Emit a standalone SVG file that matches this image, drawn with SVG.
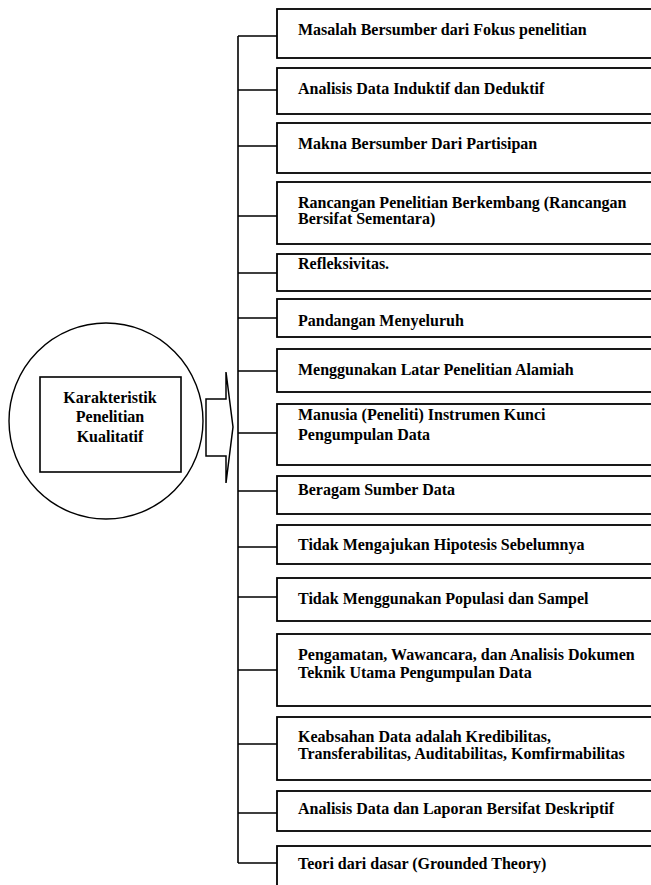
<svg xmlns="http://www.w3.org/2000/svg" width="651" height="885" viewBox="0 0 651 885">
<style>
.box{fill:#fff;stroke:#000;stroke-width:1.8}
.conn{fill:none;stroke:#000;stroke-width:1.6}
</style>
<rect width="651" height="885" fill="#fff"/>
<g font-family="Liberation Serif, Times New Roman, serif" font-weight="bold" font-size="16" fill="#000">
<g id="center">
<ellipse cx="106" cy="421" rx="97" ry="98" fill="#fff" stroke="#000" stroke-width="1.4"/>
<rect x="40" y="377" width="141" height="95" fill="#fff" stroke="#000" stroke-width="1.6"/>
<text x="110" y="403" text-anchor="middle">Karakteristik</text>
<text x="110" y="422" text-anchor="middle">Penelitian</text>
<text x="110" y="442" text-anchor="middle">Kualitatif</text>
</g>
<g id="arrow">
<path d="M206,399 L226,399 L226,372 L233,427 L226,483 L226,456 L206,456 Z" fill="#fff" stroke="#000" stroke-width="1.5" stroke-linejoin="miter"/>
</g>
<g id="connectors">
<path class="conn" d="M238,36 V863"/>
<path class="conn" d="M238,36 H277 M238,90 H277 M238,146 H277 M238,216 H277 M238,273 H277 M238,318 H277 M238,371 H277 M238,433 H277 M238,491 H277 M238,547 H277 M238,597 H277 M238,670 H277 M238,744 H277 M238,813 H277 M238,863 H277"/>
</g>
<g id="n1"><rect class="box" x="277" y="9" width="390" height="49"/><text x="298" y="35">Masalah Bersumber dari Fokus penelitian</text></g>
<g id="n2"><rect class="box" x="277" y="68" width="390" height="46"/><text x="298" y="94">Analisis Data Induktif dan Deduktif</text></g>
<g id="n3"><rect class="box" x="277" y="123" width="390" height="50"/><text x="298" y="149">Makna Bersumber Dari Partisipan</text></g>
<g id="n4"><rect class="box" x="277" y="182" width="390" height="62"/><text x="298" y="208">Rancangan Penelitian Berkembang (Rancangan</text><text x="298" y="224">Bersifat Sementara)</text></g>
<g id="n5"><rect class="box" x="277" y="254" width="390" height="37"/><text x="298" y="269">Refleksivitas.</text></g>
<g id="n6"><rect class="box" x="277" y="299" width="390" height="38"/><text x="298" y="326">Pandangan Menyeluruh</text></g>
<g id="n7"><rect class="box" x="277" y="349" width="390" height="43"/><text x="298" y="375">Menggunakan Latar Penelitian Alamiah</text></g>
<g id="n8"><rect class="box" x="277" y="404" width="390" height="61"/><text x="298" y="420">Manusia (Peneliti) Instrumen Kunci</text><text x="298" y="440">Pengumpulan Data</text></g>
<g id="n9"><rect class="box" x="277" y="476" width="390" height="38"/><text x="298" y="495">Beragam Sumber Data</text></g>
<g id="n10"><rect class="box" x="277" y="525" width="390" height="39"/><text x="298" y="550">Tidak Mengajukan Hipotesis Sebelumnya</text></g>
<g id="n11"><rect class="box" x="277" y="578" width="390" height="43"/><text x="298" y="604">Tidak Menggunakan Populasi dan Sampel</text></g>
<g id="n12"><rect class="box" x="277" y="634" width="390" height="72"/><text x="298" y="660">Pengamatan, Wawancara, dan Analisis Dokumen</text><text x="298" y="678">Teknik Utama Pengumpulan Data</text></g>
<g id="n13"><rect class="box" x="277" y="717" width="390" height="63"/><text x="298" y="742">Keabsahan Data adalah Kredibilitas,</text><text x="298" y="759">Transferabilitas, Auditabilitas, Komfirmabilitas</text></g>
<g id="n14"><rect class="box" x="277" y="791" width="390" height="40"/><text x="298" y="814">Analisis Data dan Laporan Bersifat Deskriptif</text></g>
<g id="n15"><rect class="box" x="277" y="846" width="390" height="50"/><text x="298" y="869">Teori dari dasar (Grounded Theory)</text></g>
</g>
</svg>
